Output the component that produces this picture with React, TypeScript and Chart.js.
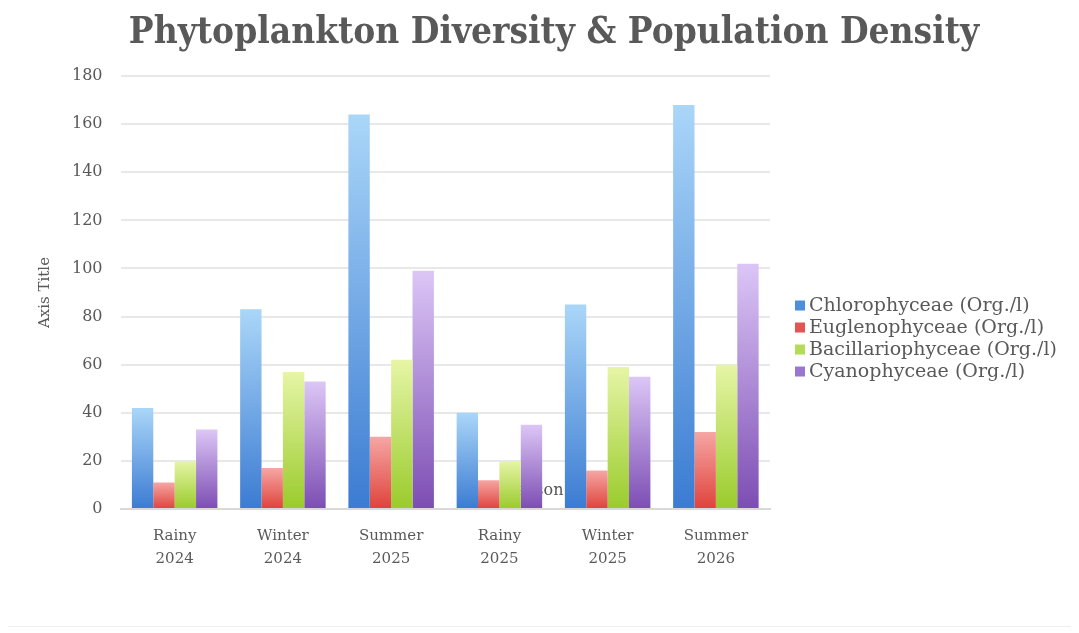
import React, { useEffect, useRef } from "react";
import { Chart, registerables } from "chart.js";

Chart.register(...registerables);

const categories: string[][] = [
  ["Rainy", "2024"],
  ["Winter", "2024"],
  ["Summer", "2025"],
  ["Rainy", "2025"],
  ["Winter", "2025"],
  ["Summer", "2026"],
];

const seriesNames = [
  "Chlorophyceae (Org./l)",
  "Euglenophyceae (Org./l)",
  "Bacillariophyceae (Org./l)",
  "Cyanophyceae (Org./l)",
];

const chlorophyceae = [42, 83, 164, 40, 85, 168];
const euglenophyceae = [11, 17, 30, 12, 16, 32];
const bacillariophyceae = [20, 57, 62, 20, 59, 60];
const cyanophyceae = [33, 53, 99, 35, 55, 102];

const yTicks = { min: 0, max: 180, step: 20 };

const palette = [
  { top: "#aad6f8", bottom: "#3b7bd2", legend: "#4d8fdc" },
  { top: "#f6a6a4", bottom: "#df423b", legend: "#e25552" },
  { top: "#e6f5a6", bottom: "#9acb2c", legend: "#b5dc58" },
  { top: "#dcc6f6", bottom: "#7c4db3", legend: "#9a76cf" },
];

const FONT = "'DejaVu Serif', serif";

function gradientFor(idx: number) {
  return (ctx: any) => {
    const chart = ctx.chart;
    const area = chart.chartArea;
    if (ctx.type !== "data" || !area) return palette[idx].legend;
    const v = ctx.parsed ? ctx.parsed.y : ctx.raw;
    const yScale = chart.scales.y;
    const top = yScale.getPixelForValue(v);
    const bottom = yScale.getPixelForValue(0);
    if (!isFinite(top) || !isFinite(bottom) || top === bottom) return palette[idx].legend;
    const g = chart.ctx.createLinearGradient(0, top, 0, bottom);
    g.addColorStop(0, palette[idx].top);
    g.addColorStop(1, palette[idx].bottom);
    return g;
  };
}

const hiddenAxisTitle = {
  id: "hiddenAxisTitle",
  beforeDatasetsDraw(chart: any) {
    const { ctx, chartArea, scales } = chart;
    const x = scales.x.getPixelForValue(3.5) + 10;
    ctx.save();
    ctx.font = `16px ${FONT}`;
    ctx.fillStyle = "#555";
    ctx.textAlign = "right";
    ctx.textBaseline = "middle";
    ctx.fillText("Season", x, chartArea.bottom - 18);
    ctx.restore();
  },
};

const sideLegend = {
  id: "sideLegend",
  afterDraw(chart: any) {
    const { ctx, chartArea } = chart;
    const datasets = chart.data.datasets;
    const rowH = 22;
    const centerY = (chartArea.top + chartArea.bottom) / 2 + 46;
    const startY = centerY - (rowH * (datasets.length - 1)) / 2;
    const boxX = chartArea.right + 25;
    ctx.save();
    ctx.font = `19px ${FONT}`;
    ctx.textAlign = "left";
    ctx.textBaseline = "middle";
    datasets.forEach((ds: any, i: number) => {
      const y = startY + i * rowH;
      ctx.fillStyle = palette[i].legend;
      ctx.fillRect(boxX, y - 5, 10, 10);
      ctx.fillStyle = "#595959";
      ctx.fillText(ds.label, boxX + 14, y + 1);
    });
    ctx.restore();
  },
};

export default function App() {
  const ref = useRef<HTMLCanvasElement | null>(null);
  useEffect(() => {
    if (!ref.current) return;
    const data = [chlorophyceae, euglenophyceae, bacillariophyceae, cyanophyceae];
    const chart = new Chart(ref.current, {
      type: "bar",
      data: {
        labels: categories,
        datasets: data.map((d, i) => ({
          label: seriesNames[i],
          data: d,
          backgroundColor: gradientFor(i),
          borderWidth: 0,
          categoryPercentage: 0.79,
          barPercentage: 1.0,
          yAxisID: "y",
        })),
      },
      options: {
        animation: false,
        responsive: true,
        maintainAspectRatio: false,
        layout: { padding: { left: 28, right: 0, top: 3, bottom: 48 } },
        plugins: {
          title: {
            display: true,
            text: "Phytoplankton Diversity & Population Density",
            color: "#595959",
            font: { family: "'DejaVu Serif Condensed', 'Liberation Serif', serif", size: 36.7, weight: "bold" },
            padding: { top: 0, bottom: 21 },
            align: "center",
          },
          legend: { display: false },
          tooltip: { enabled: false },
        },
        scales: {
          x: {
            grid: { display: false },
            border: { display: true, color: "#d9d9d9", width: 2 },
            ticks: {
              color: "#595959",
              font: { family: FONT, size: 15, lineHeight: 1.5 },
              maxRotation: 0,
              autoSkip: false,
              padding: 8,
            },
          },
          y: {
            min: yTicks.min,
            max: yTicks.max,
            grid: { color: "#e8e8e8", lineWidth: 2, drawTicks: false },
            border: { display: false },
            ticks: {
              stepSize: yTicks.step,
              color: "#595959",
              font: { family: FONT, size: 16 },
              padding: 18,
            },
            title: {
              display: true,
              text: "Axis Title",
              color: "#595959",
              font: { family: FONT, size: 15 },
              padding: { top: 0, bottom: 0 },
            },
          },
          gap: {
            position: "right",
            display: true,
            grid: { display: false, drawTicks: false },
            border: { display: false },
            ticks: { display: false },
            afterFit: (s: any) => {
              s.width = 302;
            },
          },
        },
      },
      plugins: [hiddenAxisTitle, sideLegend],
    } as any);
    return () => chart.destroy();
  }, []);
  return (
    <div
      style={{
        position: "relative",
        width: 1064,
        height: 618,
        border: "1px solid #eeeeee",
        background: "#fff",
        boxSizing: "content-box",
        marginLeft: -1,
        marginTop: -1,
      }}
    >
      <canvas ref={ref} />
    </div>
  );
}
